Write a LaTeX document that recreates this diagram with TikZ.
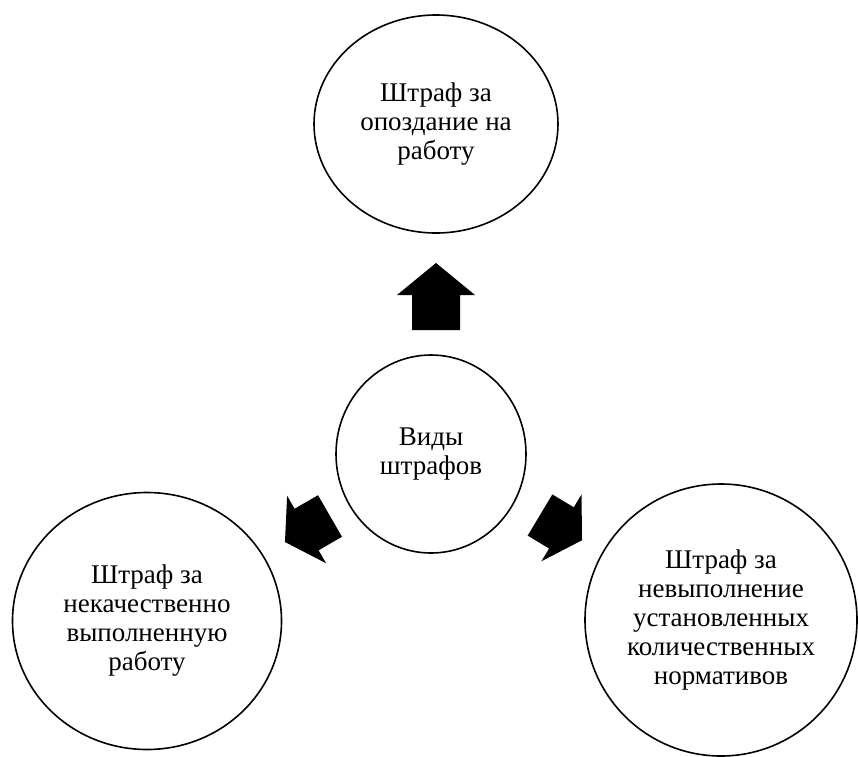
\documentclass[tikz,border=0pt]{standalone}
\usepackage{fontspec}
\setmainfont{Liberation Serif}
\usetikzlibrary{shapes.geometric}
\tikzset{
  fine/.style={ellipse, draw, line width=1.6pt, inner sep=0pt, align=center,
    font=\fontsize{27}{29}\selectfont},
}
\begin{document}
\begin{tikzpicture}[x=1pt, y=-1pt]
    \useasboundingbox (0,0) rectangle (858,756);
    % \draw[help lines, step=50] (0,0) grid (858,756);
    \node[fine, minimum width=190pt, minimum height=198pt] (kinds) at (431,454) {Виды\\штрафов};
    \node[fine, minimum width=244pt, minimum height=218pt] (late) at (436,124) {Штраф за\\опоздание на\\работу};
    \node[fine, minimum width=269pt, minimum height=257pt] (poor) at (147,621) {Штраф за\\некачественно\\выполненную\\работу};
    \node[fine, minimum width=272pt, minimum height=272pt] (norm) at (721,620) {Штраф за\\невыполнение\\установленных\\количественных\\нормативов};

    \begin{scope}[shift={(436,330)}, rotate=90]
      \fill (0,-24) -- (35,-24) -- (35,-39) -- (67,0) -- (35,39) -- (35,24) -- (0,24) -- cycle;
    \end{scope}
    \begin{scope}[shift={(330,516)}, rotate=210]
      \fill (0,-24) -- (27,-24) -- (27,-39) -- (52,0) -- (27,39) -- (27,24) -- (0,24) -- cycle;
    \end{scope}
    \begin{scope}[shift={(540,515)}, rotate=-31]
      \fill (0,-24) -- (25,-24) -- (25,-39) -- (49,0) -- (25,39) -- (25,24) -- (0,24) -- cycle;
    \end{scope}
\end{tikzpicture}
\end{document}
